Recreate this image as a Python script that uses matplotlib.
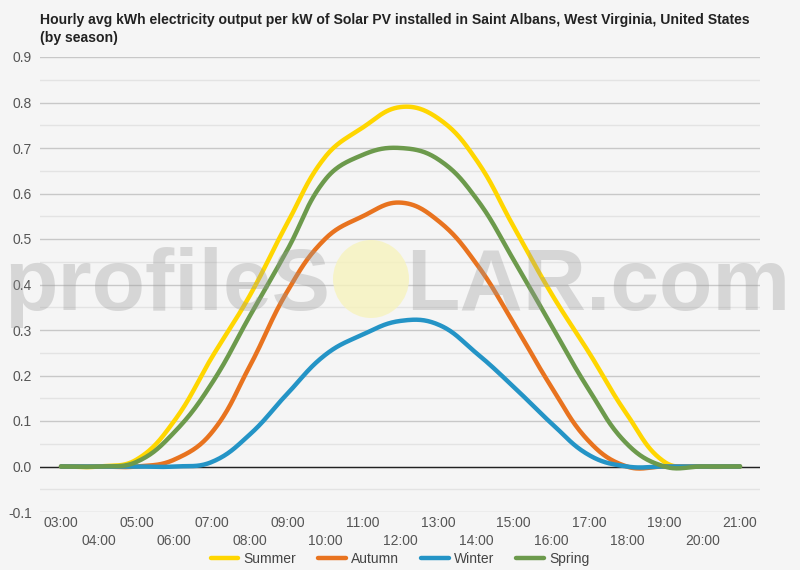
import numpy as np
import matplotlib
matplotlib.use("Agg")
import matplotlib.pyplot as plt
from matplotlib.patches import Ellipse

plt.rcParams['font.family'] = ['Liberation Sans', 'DejaVu Sans']

hours = list(range(3, 22))
hour_labels = [f"{h:02d}:00" for h in hours]
series_names = ["Summer", "Autumn", "Winter", "Spring"]
summer = [0, 0, 0.015, 0.10, 0.24, 0.375, 0.535, 0.68, 0.745, 0.79, 0.765, 0.675, 0.527, 0.38, 0.25, 0.115, 0.01, 0, 0]
autumn = [0, 0, 0, 0.015, 0.075, 0.22, 0.385, 0.50, 0.55, 0.58, 0.54, 0.447, 0.315, 0.175, 0.055, 0.0, 0, 0, 0]
winter = [0, 0, 0, 0, 0.01, 0.07, 0.16, 0.245, 0.29, 0.32, 0.312, 0.25, 0.175, 0.095, 0.025, 0.0, 0, 0, 0]
spring = [0, 0, 0.01, 0.075, 0.183, 0.33, 0.476, 0.63, 0.685, 0.70, 0.675, 0.59, 0.454, 0.31, 0.168, 0.05, 0.0, 0, 0]
colors = ["#FFD600", "#E8731F", "#2494C6", "#6C9A4C"]

BG = "#f5f5f5"
fig = plt.figure(figsize=(8, 5.7), dpi=100, facecolor=BG)
ax = fig.add_axes([40/800, 1-512/570, 720/800, 455/570])
ax.set_facecolor(BG)
ax.set_xlim(3 - 21/37.72, 21 + 20/37.72)
ax.set_ylim(-0.1, 0.9)

major = np.round(np.arange(-0.1, 0.91, 0.1), 2)
ax.set_yticks(major)
ax.set_yticks(np.round(np.arange(-0.05, 0.9, 0.1), 2), minor=True)
ax.set_yticklabels([f"{v:.1f}" for v in major])
ax.grid(axis='y', which='major', color='#c8c8c8', lw=1)
ax.grid(axis='y', which='minor', color='#e3e3e3', lw=1)
ax.set_axisbelow(True)
for s in ax.spines.values():
    s.set_visible(False)
ax.tick_params(axis='y', which='both', length=0, labelsize=10, labelcolor='#555555', pad=6)
ax.tick_params(axis='x', length=0, labelsize=10, labelcolor='#555555')
ax.set_xticks(hours)
ax.set_xticklabels(hour_labels)
for i, t in enumerate(ax.xaxis.get_major_ticks()):
    t.set_pad(3 if i % 2 == 0 else 16)
ax.axhline(0, color='#222222', lw=1, zorder=2)


def spline(xs, ys, tension=0.4, n=30):
    """Smooth cardinal-type spline through the data points (rendering only)."""
    pts = ax.transData.transform(np.column_stack([xs, ys]))
    m = len(pts)
    cps_prev = np.zeros_like(pts)
    cps_next = np.zeros_like(pts)
    for i in range(m):
        p0 = pts[max(i-1, 0)]
        p1 = pts[i]
        p2 = pts[min(i+1, m-1)]
        d01 = np.hypot(*(p1-p0))
        d12 = np.hypot(*(p2-p1))
        tot = d01 + d12
        s01 = d01/tot if tot else 0
        s12 = d12/tot if tot else 0
        cps_prev[i] = p1 - tension*s01*(p2-p0)
        cps_next[i] = p1 + tension*s12*(p2-p0)
    out = []
    tt = np.linspace(0, 1, n)[:, None]
    for i in range(m-1):
        P0, C1, C2, P3 = pts[i], cps_next[i], cps_prev[i+1], pts[i+1]
        seg = ((1-tt)**3)*P0 + 3*((1-tt)**2)*tt*C1 + 3*(1-tt)*tt**2*C2 + tt**3*P3
        out.append(seg if i == 0 else seg[1:])
    out = np.vstack(out)
    d = ax.transData.inverted().transform(out)
    return d[:, 0], d[:, 1]


for name, vals, c in zip(series_names, [summer, autumn, winter, spring], colors):
    sx, sy = spline(hours, vals)
    ax.plot(sx, sy, color=c, lw=3.2, label=name, solid_capstyle='round', zorder=3)

# watermark
fig.patches.append(Ellipse((371/800, 1-279/570), 76/800, 78/570, transform=fig.transFigure,
                           facecolor='#f7f3bd', edgecolor='none', alpha=0.8, zorder=5))
fig.text(4/800, 1-310/570, "profileS", fontsize=63, fontweight='bold', color='#999999', alpha=0.33,
         ha='left', va='baseline', zorder=6)
fig.text(406/800, 1-310/570, "LAR.com", fontsize=63, fontweight='bold', color='#999999', alpha=0.33,
         ha='left', va='baseline', zorder=6)

fig.text(40/800, 1-20/570, "Hourly avg kWh electricity output per kW of Solar PV installed in Saint Albans, West Virginia, United States",
         fontsize=10.1, fontweight='bold', color='#222222', ha='left', va='center')
fig.text(40/800, 1-38/570, "(by season)", fontsize=10.1, fontweight='bold', color='#222222', ha='left', va='center')

fig.legend(loc='center', bbox_to_anchor=(0.5, 1-559/570), ncol=4, frameon=False,
           fontsize=10, handlelength=2.0, handletextpad=0.35, columnspacing=1.6,
           labelcolor='#444444')

fig.savefig("out.png", dpi=100, facecolor=BG)
